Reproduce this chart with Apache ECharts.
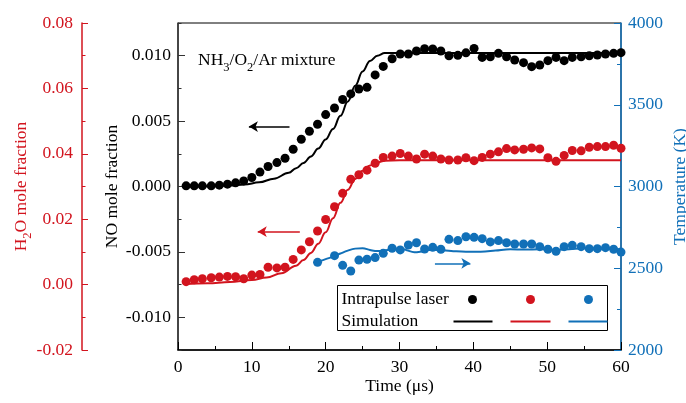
<!DOCTYPE html>
<html>
<head>
<meta charset="utf-8">
<script src="https://cdn.jsdelivr.net/npm/echarts@6/dist/echarts.min.js"></script>
<style>
  html, body { margin: 0; padding: 0; background: #fff; }
  #chart { width: 686px; height: 403px; }
</style>
</head>
<body>
<div id="chart"></div>
<script>
// measurement times (us), shared by the three intrapulse laser series
const time = [1.1, 2.2, 3.3, 4.5, 5.6, 6.7, 7.8, 8.9, 10.0, 11.1, 12.2, 13.4, 14.5, 15.6, 16.7, 17.8, 18.9, 20.0,
  21.2, 22.3, 23.4, 24.5, 25.6, 26.7, 27.8, 29.0, 30.1, 31.2, 32.3, 33.4, 34.5, 35.6, 36.7, 37.9, 39.0, 40.1,
  41.2, 42.3, 43.4, 44.5, 45.6, 46.8, 47.9, 49.0, 50.1, 51.2, 52.3, 53.4, 54.6, 55.7, 56.8, 57.9, 59.0, 60.0];

const noLaser = [0.00005, 0.00005, 0.00005, 0.00005, 0.0001, 0.00018, 0.00028, 0.00043, 0.00069, 0.0011,
  0.00153, 0.00183, 0.00216, 0.00285, 0.00361, 0.00422, 0.00476, 0.0055, 0.006, 0.00665,
  0.00708, 0.00745, 0.00758, 0.00853, 0.00918, 0.00977, 0.01013, 0.01013, 0.01036, 0.01053,
  0.01051, 0.01036, 0.0100, 0.01003, 0.01022, 0.01056, 0.00987, 0.00992, 0.01018, 0.00992,
  0.00967, 0.00947, 0.00916, 0.00929, 0.00962, 0.00987, 0.00962, 0.00987, 0.00992, 0.0100,
  0.01005, 0.01013, 0.01018, 0.01023];

const h2oLaser = [0.0009, 0.0015, 0.0018, 0.0021, 0.0023, 0.0025, 0.0024, 0.0018, 0.0029, 0.0031,
  0.0053, 0.0051, 0.0053, 0.0077, 0.0106, 0.0131, 0.0164, 0.0199, 0.0238, 0.0279,
  0.0322, 0.0336, 0.035, 0.0371, 0.0389, 0.0393, 0.0401, 0.0393, 0.0384, 0.0399,
  0.0393, 0.0384, 0.0381, 0.0381, 0.0388, 0.0379, 0.0389, 0.0399, 0.0406, 0.0416,
  0.0412, 0.0414, 0.0418, 0.0415, 0.0388, 0.0377, 0.0395, 0.041, 0.0409, 0.042,
  0.0422, 0.0422, 0.0426, 0.0417];

const tempLaser = [null, null, null, null, null, null, null, null, null, null,
  null, null, null, null, null, null, 2536, null, 2577, 2518,
  2483, 2550, 2555, 2565, 2591, 2622, 2612, 2642, 2656, 2618,
  2628, 2616, 2677, 2669, 2693, 2689, 2681, 2661, 2669, 2656,
  2648, 2648, 2648, 2632, 2616, 2604, 2632, 2640, 2632, 2620,
  2620, 2626, 2616, 2599];

// simulation curves
const simNoTime = [1, 4, 7, 9, 11, 13, 15, 16, 17, 18, 19, 20, 21, 22, 23, 24, 25, 26, 27, 28, 30, 40, 50, 60];
const simNo = [0, 0.00002, 0.00007, 0.00015, 0.00032, 0.0006, 0.00105, 0.0014, 0.0018, 0.0023, 0.0029, 0.0036,
  0.0044, 0.0054, 0.0065, 0.0077, 0.0088, 0.0096, 0.0100, 0.0102, 0.0102, 0.0102, 0.0102, 0.0102];

const simH2oTime = [1, 4, 7, 10, 12, 14, 16, 17, 18, 19, 20, 21, 22, 23, 24, 25, 26, 27, 28, 30, 40, 50, 60];
const simH2o = [0.0002, 0.0004, 0.0008, 0.0014, 0.0022, 0.0035, 0.0058, 0.0075, 0.0097, 0.0125, 0.016, 0.0203,
  0.025, 0.029, 0.0323, 0.0348, 0.0364, 0.0374, 0.0379, 0.038, 0.038, 0.038, 0.038];

const simTempTime = [19, 20, 21, 22, 23, 24, 25, 26, 27, 28, 29, 30, 31, 32, 33, 34, 35, 37, 39, 41, 43, 45, 47,
  49, 51, 53, 55, 57, 60];
const simTemp = [2540, 2556, 2571, 2590, 2608, 2620, 2622, 2612, 2605, 2610, 2615, 2622, 2610, 2598, 2603, 2612,
  2612, 2606, 2601, 2601, 2608, 2616, 2614, 2616, 2612, 2616, 2622, 2620, 2616];

const xTicks = { min: 0, max: 60, interval: 10 };

const FONT = 'Liberation Serif';
const RED = '#d2141e';
const BLUE = '#1170b8';
const FS = 17.5;

const zip = (xs, ys) => xs.map((x, i) => [x, ys[i]]);

const chart = echarts.init(document.getElementById('chart'), null, { renderer: 'canvas' });

const txt = (color) => ({ color: color, fontFamily: FONT, fontSize: FS });

function noLabel(v) {
  const k = Math.round(v / 0.005);
  if (Math.abs(k * 0.005 - v) > 1e-9) return '';
  return (k * 0.005).toFixed(3);
}

function arrow(from, to, color) {
  return {
    silent: true,
    symbol: ['none', 'arrow'],
    symbolSize: [8, 9],
    label: { show: false },
    lineStyle: { color: color, width: 1.6, type: 'solid' },
    data: [[{ coord: from }, { coord: to }]]
  };
}

chart.setOption({
  animation: false,
  backgroundColor: '#fff',
  grid: {
    left: 178, right: 65, top: 23, bottom: 53,
    show: true, borderColor: '#000', borderWidth: 1,
    containLabel: false, outerBoundsMode: 'none'
  },
  xAxis: {
    type: 'value',
    min: xTicks.min, max: xTicks.max, interval: xTicks.interval,
    axisLine: { onZero: false, lineStyle: { color: '#000', width: 1.5 } },
    axisTick: { inside: true, length: 8, lineStyle: { color: '#000' } },
    minorTick: { show: true, splitNumber: 2, length: 4, lineStyle: { color: '#000' } },
    axisLabel: Object.assign({ margin: 8 }, txt('#000')),
    splitLine: { show: false },
    name: 'Time (\u03bcs)',
    nameLocation: 'middle',
    nameGap: 27,
    nameMoveOverlap: false,
    nameTextStyle: txt('#000')
  },
  yAxis: [
    {
      // NO mole fraction
      type: 'value', position: 'left',
      min: -0.0125, max: 0.0125, splitNumber: 5,
      axisLine: { show: true, onZero: false, lineStyle: { color: '#333', width: 1.5 } },
      axisTick: { inside: true, length: 7, lineStyle: { color: '#333' } },
      axisLabel: Object.assign({ margin: 7, formatter: noLabel, showMinLabel: false, showMaxLabel: false }, txt('#000')),
      splitLine: { show: false },
      name: 'NO mole fraction', nameLocation: 'middle', nameRotate: 90, nameGap: 57,
      nameMoveOverlap: false,
      nameTextStyle: txt('#000')
    },
    {
      // H2O mole fraction
      type: 'value', position: 'left', offset: 96,
      min: -0.02, max: 0.08, interval: 0.02,
      axisLine: { show: true, onZero: false, lineStyle: { color: RED, width: 1.5 } },
      axisTick: { inside: true, length: 6, lineStyle: { color: RED } },
      minorTick: { show: true, splitNumber: 2, length: 3.5, lineStyle: { color: RED } },
      axisLabel: Object.assign({ margin: 9, formatter: (v) => v.toFixed(2) }, txt(RED)),
      splitLine: { show: false },
      name: '{b|H}{s|2}{b|O mole fraction}', nameLocation: 'middle', nameRotate: 90, nameGap: 48,
      nameMoveOverlap: false,
      nameTextStyle: Object.assign({
        rich: {
          b: { color: RED, fontFamily: FONT, fontSize: FS, lineHeight: 26, verticalAlign: 'middle' },
          s: { color: RED, fontFamily: FONT, fontSize: 12.5, lineHeight: 26, verticalAlign: 'bottom' }
        }
      }, txt(RED))
    },
    {
      // Temperature
      type: 'value', position: 'right',
      min: 2000, max: 4000, interval: 500,
      axisLine: { show: true, onZero: false, lineStyle: { color: BLUE, width: 1.5 } },
      axisTick: { inside: true, length: 7, lineStyle: { color: BLUE } },
      minorTick: { show: true, splitNumber: 2, length: 4, lineStyle: { color: BLUE } },
      axisLabel: Object.assign({ margin: 7, formatter: (v) => String(v) }, txt(BLUE)),
      splitLine: { show: false },
      name: 'Temperature (K)', nameLocation: 'middle', nameRotate: 90, nameGap: 50,
      nameMoveOverlap: false,
      nameTextStyle: txt(BLUE)
    },
    {
      // NO minor ticks
      type: 'value', position: 'left',
      min: -0.0125, max: 0.0125, interval: 0.0025,
      axisLine: { show: false, onZero: false },
      axisTick: { show: true, inside: true, length: 3.5, lineStyle: { color: '#333' } },
      axisLabel: { show: false },
      splitLine: { show: false }
    }
  ],
  series: [
    {
      type: 'line', yAxisIndex: 0, data: zip(simNoTime, simNo),
      showSymbol: false, smooth: 0.4, smoothMonotone: 'x',
      lineStyle: { color: '#000', width: 2 }, itemStyle: { color: '#000' }
    },
    {
      type: 'line', yAxisIndex: 1, data: zip(simH2oTime, simH2o),
      showSymbol: false, smooth: 0.4, smoothMonotone: 'x',
      lineStyle: { color: RED, width: 2 }, itemStyle: { color: RED }
    },
    {
      type: 'line', yAxisIndex: 2, data: zip(simTempTime, simTemp),
      showSymbol: false, smooth: 0.4,
      lineStyle: { color: BLUE, width: 2 }, itemStyle: { color: BLUE }
    },
    {
      type: 'scatter', yAxisIndex: 0, data: zip(time, noLaser),
      symbolSize: 9, itemStyle: { color: '#000', opacity: 1 },
      markLine: arrow([15.1, 0.00458], [9.6, 0.00458], '#000')
    },
    {
      type: 'scatter', yAxisIndex: 1, data: zip(time, h2oLaser),
      symbolSize: 9, itemStyle: { color: RED, opacity: 1 },
      markLine: arrow([16.5, 0.0162], [10.8, 0.0162], RED)
    },
    {
      type: 'scatter', yAxisIndex: 2,
      data: zip(time, tempLaser).filter((p) => p[1] !== null),
      symbolSize: 9, itemStyle: { color: BLUE, opacity: 1 },
      markLine: arrow([34.8, 2530], [39.6, 2530], BLUE)
    }
  ],
  graphic: [
    {
      type: 'text', left: 198, top: 51,
      style: {
        text: '{b|NH}{s|3}{b|/O}{s|2}{b|/Ar mixture}',
        rich: {
          b: { fill: '#000', fontFamily: FONT, fontSize: FS, lineHeight: 29, verticalAlign: 'middle' },
          s: { fill: '#000', fontFamily: FONT, fontSize: 12.5, lineHeight: 29, verticalAlign: 'bottom' }
        }
      }
    },
    {
      type: 'group', left: 337, top: 285,
      children: [
        { type: 'rect', shape: { x: 0, y: 0, width: 270, height: 45 },
          style: { fill: '#fff', stroke: '#000', lineWidth: 1 } },
        { type: 'text', x: 4, y: 14, style: { text: 'Intrapulse laser', fill: '#000', font: FS + 'px "' + FONT + '"', verticalAlign: 'middle' } },
        { type: 'text', x: 4, y: 36, style: { text: 'Simulation', fill: '#000', font: FS + 'px "' + FONT + '"', verticalAlign: 'middle' } },
        { type: 'circle', shape: { cx: 135, cy: 14, r: 4.5 }, style: { fill: '#000' } },
        { type: 'circle', shape: { cx: 193, cy: 14, r: 4.5 }, style: { fill: RED } },
        { type: 'circle', shape: { cx: 251, cy: 14, r: 4.5 }, style: { fill: BLUE } },
        { type: 'line', shape: { x1: 116, y1: 36, x2: 155, y2: 36 }, style: { stroke: '#000', lineWidth: 2 } },
        { type: 'line', shape: { x1: 173, y1: 36, x2: 213, y2: 36 }, style: { stroke: RED, lineWidth: 2 } },
        { type: 'line', shape: { x1: 231, y1: 36, x2: 270, y2: 36 }, style: { stroke: BLUE, lineWidth: 2 } }
      ]
    }
  ]
});
</script>
</body>
</html>
